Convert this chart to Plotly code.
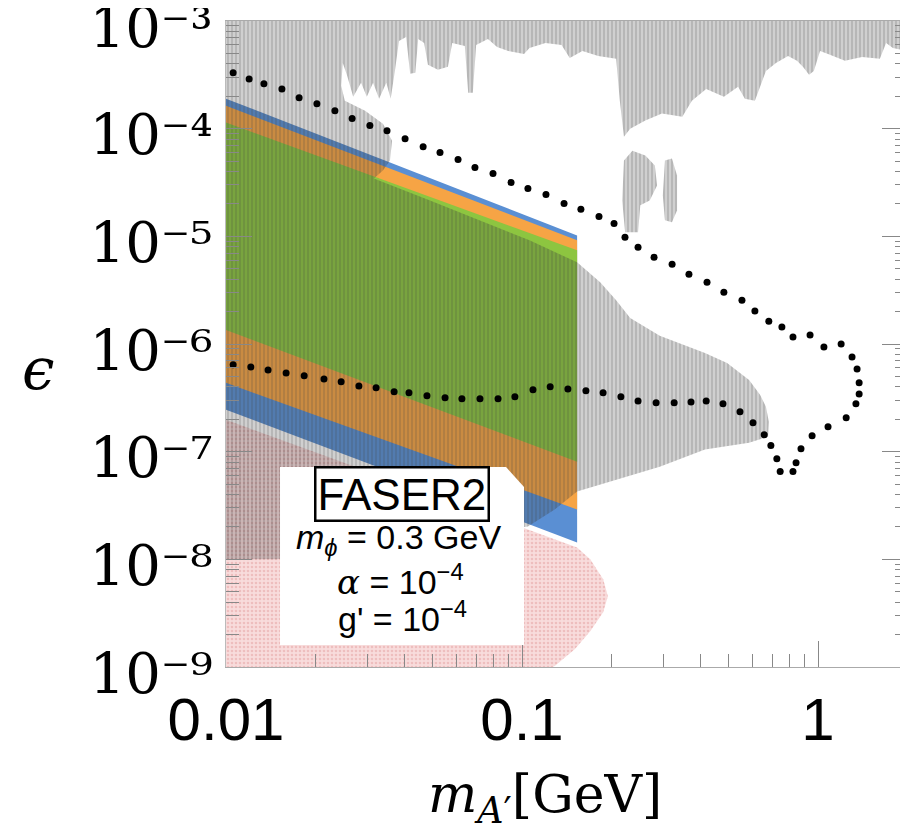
import plotly.graph_objects as go

# ---------------- data ----------------
band_x = [0.01, 0.1535, 0.1535, 0.01]
blue_eps = [1.90e-4, 1.02e-5, 1.435e-8, 2.45e-7]
orange_eps = [1.63e-4, 9.18e-6, 2.90e-8, 4.36e-7]
green_eps = [1.14e-4, 7.41e-6, 8.07e-8, 1.35e-6]

pink_m = [0.01, 0.1535, 0.170, 0.188, 0.195, 0.188, 0.170, 0.151, 0.129, 0.127, 0.01]
pink_eps = [1.98e-7, 1.29e-8, 1.0e-8, 6.53e-9, 4.54e-9, 3.23e-9, 2.15e-9, 1.47e-9, 1.02e-9, 1.0e-9, 1.0e-9]

# existing constraints (grey hatched): top constraints + beam dump, one outline
gray_m = [0.01, 2.01,
          2.01, 1.791, 1.698, 1.618, 1.409, 1.233, 1.081, 1.016, 0.968, 0.933, 0.889, 0.849,
          0.792, 0.721, 0.667, 0.637, 0.612, 0.566, 0.537, 0.481, 0.419, 0.375, 0.348, 0.297,
          0.261, 0.232, 0.221, 0.214, 0.208, 0.181, 0.160, 0.145, 0.136, 0.120, 0.106, 0.1016,
          0.0898, 0.0824, 0.0767, 0.0700, 0.0682, 0.0658, 0.0641, 0.0581, 0.0562, 0.0520,
          0.0481, 0.0467, 0.0446, 0.0436, 0.0419, 0.0406, 0.0384, 0.0372, 0.0360, 0.0348,
          0.0329, 0.0314, 0.0299, 0.0286, 0.0269, 0.0256, 0.0248,
          0.0245, 0.0252, 0.0295, 0.0339, 0.0364, 0.0358, 0.0339, 0.0316,
          0.0489, 0.0721, 0.106, 0.1535, 0.1837, 0.208, 0.232, 0.292, 0.415, 0.493, 0.585,
          0.637, 0.667, 0.682, 0.678,
          0.585, 0.415, 0.292, 0.208, 0.1535, 0.129, 0.1047, 0.0387, 0.01486, 0.01]
gray_eps = [1e-3, 1e-3,
            5.27e-4, 5.62e-4, 6.25e-4, 4.45e-4, 4.64e-4, 4.27e-4, 4.94e-4, 5.27e-4, 3.44e-4, 3.16e-4, 3.75e-4, 4.27e-4,
            4.74e-4, 4.08e-4, 3.44e-4, 2.50e-4, 1.82e-4, 1.90e-4, 2.45e-4, 1.98e-4, 2.34e-4, 1.82e-4, 1.29e-4, 1.38e-4,
            1.19e-4, 1.0e-4, 8.43e-5, 1.82e-4, 4.45e-4, 4.74e-4, 5.27e-4, 4.54e-4, 6.0e-4, 6.25e-4, 5.62e-4, 4.94e-4,
            5.27e-4, 5.74e-4, 6.81e-4, 6.0e-4, 2.15e-4, 2.15e-4, 5.87e-4, 6.25e-4, 3.75e-4, 3.52e-4,
            3.92e-4, 6.25e-4, 6.81e-4, 3.30e-4, 3.23e-4, 7.11e-4, 6.53e-4, 3.44e-4, 1.90e-4, 2.67e-4,
            1.90e-4, 2.67e-4, 1.98e-4, 2.67e-4, 1.98e-4, 3.16e-4, 4.08e-4,
            2.50e-4, 1.82e-4, 1.47e-4, 1.11e-4, 7.74e-5, 5.06e-5, 4.08e-5, 3.44e-5,
            2.15e-5, 1.41e-5, 9.18e-6, 5.74e-6, 3.75e-6, 2.55e-6, 1.74e-6, 1.19e-6, 8.26e-7, 6.67e-7, 4.64e-7,
            3.37e-7, 2.61e-7, 1.90e-7, 1.38e-7,
            1.21e-7, 1.045e-7, 7.26e-8, 5.51e-8, 4.27e-8, 2.90e-8, 2.02e-8, 1.38e-8, 1.0e-8, 1.0e-8]

island1_m = [0.223, 0.218, 0.221, 0.236, 0.261, 0.281, 0.286, 0.270, 0.251, 0.2466]
island1_eps = [1.09e-5, 2.15e-5, 5.06e-5, 6.25e-5, 5.62e-5, 4.54e-5, 2.96e-5, 2.15e-5, 1.94e-5, 1.09e-5]
island2_m = [0.304, 0.321, 0.334, 0.334, 0.321, 0.304, 0.299]
island2_eps = [5.06e-5, 5.27e-5, 3.67e-5, 1.74e-5, 1.35e-5, 1.41e-5, 2.40e-5]

# dotted projection contour
dots_m = [0.01057, 0.01197, 0.01343, 0.01545, 0.01766, 0.02028, 0.02333, 0.02667, 0.03062, 0.03499,
          0.04027, 0.04634, 0.05284, 0.06081, 0.06934, 0.0798, 0.09183, 0.1047, 0.1205, 0.1387,
          0.1581, 0.182, 0.2046, 0.2228, 0.2466, 0.2793, 0.3214, 0.3664, 0.4217, 0.4808, 0.5534,
          0.612, 0.682, 0.755, 0.823, 0.94, 1.047, 1.197, 1.303, 1.355, 1.377, 1.377, 1.343,
          1.245, 1.081, 0.955, 0.876, 0.843, 0.823, 0.745, 0.726, 0.693, 0.658, 0.603, 0.545,
          0.4775, 0.419, 0.3724, 0.3266, 0.2838, 0.2466, 0.2158, 0.1879, 0.1644, 0.1429, 0.1245,
          0.1089, 0.09462, 0.08299, 0.07211, 0.06266, 0.05495, 0.04775, 0.0415, 0.03698, 0.03214,
          0.02812, 0.02449, 0.02143, 0.01837, 0.01596, 0.01387, 0.01213, 0.01057]
dots_eps = [3.30e-4, 2.90e-4, 2.61e-4, 2.34e-4, 1.94e-4, 1.70e-4, 1.47e-4, 1.24e-4, 1.07e-4, 9.57e-5,
            8.07e-5, 6.81e-5, 6.00e-5, 5.16e-5, 4.36e-5, 3.83e-5, 3.16e-5, 2.78e-5, 2.45e-5, 2.02e-5,
            1.78e-5, 1.53e-5, 1.318e-5, 9.79e-6, 7.91e-6, 6.40e-6, 5.51e-6, 4.45e-6, 3.75e-6, 3.03e-6, 2.55e-6,
            2.02e-6, 1.63e-6, 1.435e-6, 1.161e-6, 1.211e-6, 9.38e-7, 1.0e-6, 7.59e-7, 5.87e-7, 4.36e-7, 3.44e-7, 2.78e-7,
            2.07e-7, 1.70e-7, 1.406e-7, 1.067e-7, 7.91e-8, 6.53e-8, 6.53e-8, 8.61e-8, 1.138e-7, 1.435e-7, 1.858e-7, 2.344e-7,
            2.78e-7, 2.96e-7, 2.90e-7, 2.84e-7, 2.84e-7, 2.96e-7, 3.23e-7, 3.52e-7, 3.67e-7, 3.83e-7, 4.0e-7,
            3.75e-7, 3.23e-7, 3.10e-7, 3.10e-7, 3.10e-7, 3.16e-7, 3.30e-7, 3.52e-7, 3.60e-7, 3.92e-7,
            4.08e-7, 4.45e-7, 4.74e-7, 5.06e-7, 5.38e-7, 5.74e-7, 6.12e-7, 6.40e-7]

x_tick_vals = [0.01, 0.1, 1]
x_tick_text = ["0.01", "0.1", "1"]
y_tick_vals = [1e-9, 1e-8, 1e-7, 1e-6, 1e-5, 1e-4, 1e-3]
y_tick_text = ["10⁻⁹", "10⁻⁸", "10⁻⁷", "10⁻⁶", "10⁻⁵", "10⁻⁴", "10⁻³"]

# ---------------- figure ----------------
fig = go.Figure()

fig.add_trace(go.Scatter(x=pink_m, y=pink_eps, mode="lines", fill="toself",
                         line=dict(width=0, color="rgba(0,0,0,0)"), fillcolor="#f8dcdc",
                         fillpattern=dict(shape=".", fgcolor="#e4a0a0", bgcolor="#f8dcdc",
                                          size=4, solidity=0.35),
                         hoverinfo="skip"))

for ys, col in [(blue_eps, "#5a8fd3"), (orange_eps, "#f6a445"), (green_eps, "#8dc540")]:
    fig.add_trace(go.Scatter(x=band_x, y=ys, mode="lines", fill="toself",
                             line=dict(width=0, color="rgba(0,0,0,0)"), fillcolor=col,
                             hoverinfo="skip"))

gray_pat = dict(shape="|", fgcolor="rgba(60,60,60,0.5)", bgcolor="rgba(60,60,60,0.24)",
                size=4, solidity=0.35)
for xs, ys in [(gray_m, gray_eps), (island1_m, island1_eps), (island2_m, island2_eps)]:
    fig.add_trace(go.Scatter(x=xs, y=ys, mode="lines", fill="toself",
                             line=dict(width=0, color="rgba(0,0,0,0)"),
                             fillcolor="rgba(60,60,60,0.24)", fillpattern=gray_pat,
                             hoverinfo="skip"))

fig.add_trace(go.Scatter(x=dots_m, y=dots_eps, mode="markers",
                         marker=dict(size=7, color="black"), hoverinfo="skip"))

x_minor = [v * d for d in (0.01, 0.1, 1) for v in range(2, 10)]
y_minor = [v * d for d in (1e-9, 1e-8, 1e-7, 1e-6, 1e-5, 1e-4) for v in range(2, 10)]

fig.update_xaxes(type="log", range=[-2, 0.304], tickvals=x_tick_vals, ticktext=x_tick_text,
                 tickfont=dict(family="Liberation Sans", size=60, color="black"),
                 ticks="inside", ticklen=26, tickcolor="#888", tickwidth=1,
                 minor=dict(tickvals=x_minor, ticks="inside", ticklen=13, tickcolor="#888"),
                 showline=True, linecolor="#aaa", mirror=True, showgrid=False, zeroline=False,
                 automargin=False, ticklabelstandoff=0, ticklabeloverflow="allow")
fig.update_yaxes(type="log", range=[-9, -3], tickvals=y_tick_vals, ticktext=y_tick_text,
                 tickfont=dict(family="DejaVu Serif", size=56, color="black"),
                 ticks="inside", ticklen=26, tickcolor="#888", tickwidth=1,
                 minor=dict(tickvals=y_minor, ticks="inside", ticklen=13, tickcolor="#888"),
                 showline=True, linecolor="#bbb", mirror="ticks", showgrid=False, zeroline=False,
                 automargin=False, ticklabelstandoff=1, ticklabelshift=6,
                 ticklabeloverflow="allow")

# white label box with chamfered corner
fig.add_shape(type="path", xref="paper", yref="paper",
              path="M 0.0792,0.034 L 0.0792,0.3096 L 0.4106,0.3096 L 0.437,0.2786 L 0.437,0.034 Z",
              fillcolor="white", line=dict(width=0), layer="above")

ann_font = dict(family="Liberation Sans", color="black")
common = dict(xref="paper", yref="paper", showarrow=False, xanchor="center", yanchor="middle")
fig.add_annotation(x=0.258, y=0.2678, text="FASER2",
                   font=dict(size=44, **ann_font), bordercolor="black", borderwidth=2.5,
                   borderpad=1, bgcolor="white", **common)
fig.add_annotation(x=0.253, y=0.1966, text="<i>m</i><sub><i>ϕ</i></sub> = 0.3 GeV",
                   font=dict(size=34, **ann_font), **common)
fig.add_annotation(x=0.256, y=0.1347,
                   text="<span style='font-family:DejaVu Serif'><i>α</i></span> = 10<sup>−4</sup>",
                   font=dict(size=34, **ann_font), **common)
fig.add_annotation(x=0.259, y=0.0774, text="g' = 10<sup>−4</sup>",
                   font=dict(size=34, **ann_font), **common)

# axis titles
fig.add_annotation(x=0.468, y=-0.203, text="<i>m</i><sub><i>A</i>′</sub>[GeV]",
                   font=dict(family="DejaVu Serif", size=52, color="black"), **common)
fig.add_annotation(x=-0.275, y=0.462, text="<i>ϵ</i>",
                   font=dict(family="DejaVu Serif", size=58, color="black"), **common)

# the page body adds an 8px offset, so the figure is 8px smaller than the window
fig.update_layout(width=900, height=823, margin=dict(l=218, r=0, t=13, b=164, autoexpand=False),
                  plot_bgcolor="white", paper_bgcolor="white", showlegend=False)

fig.write_html("out.html")
